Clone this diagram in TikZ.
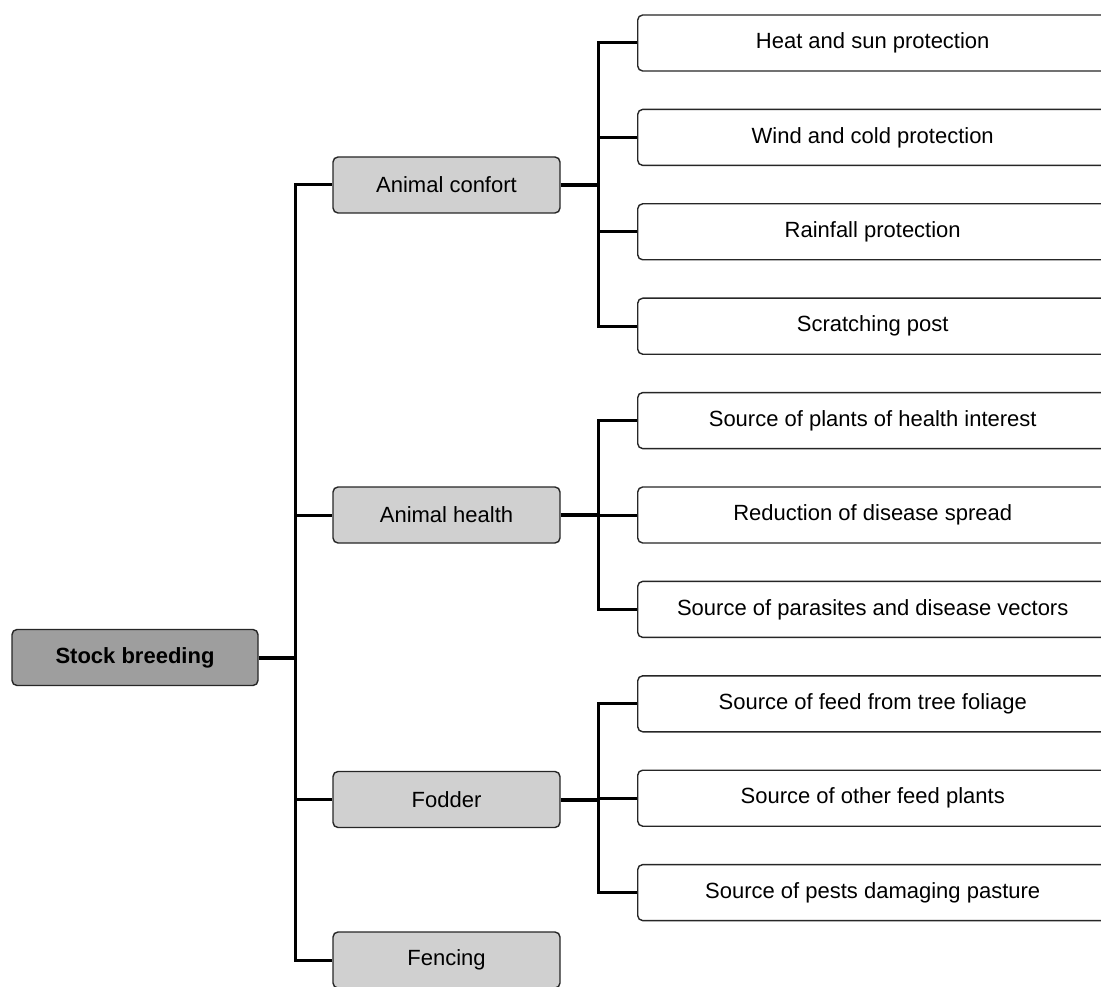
\documentclass[tikz,border=0pt]{standalone}
\usepackage{fontspec}
\setmainfont{Liberation Sans}
\usetikzlibrary{positioning}
\definecolor{rootgray}{RGB}{158,158,158}
\definecolor{midgray}{RGB}{208,208,208}
\tikzset{
    box/.style={draw=black!85, line width=1.4pt, rounded corners=5pt, minimum height=56pt, inner sep=0pt, font=\fontsize{22}{26}\selectfont}, % common box
    rootbox/.style={box, fill=rootgray, minimum width=246pt, font=\fontsize{22}{26}\selectfont\bfseries},
    midbox/.style={box, fill=midgray, minimum width=227pt},
    leafbox/.style={box, fill=white, minimum width=470pt, anchor=west},
    link/.style={line width=3pt},
    spine/.style={line width=3pt, line cap=rect},
    stub/.style={line width=4pt}
}

\begin{document}
\begin{tikzpicture}[x=1pt, y=-1pt]
    \useasboundingbox (0,0) rectangle (1101,987);
    \clip (0,0) rectangle (1101,987);

    \coordinate (tr) at (295,0);
    \coordinate (lv) at (598,0);

    \node[rootbox] (root) at (135,657.5) {Stock breeding};

    \foreach \n/\y/\txt in {
        1/185/{Animal confort},
        2/515/{Animal health},
        3/799.5/{Fodder},
        4/960/{Fencing}
    } {
        \node[midbox] (a\n) at (446.5,\y) {\txt};
    }

    \foreach \n/\y/\txt in {
        1/43/{Heat and sun protection},
        2/137.4/{Wind and cold protection},
        3/231.8/{Rainfall protection},
        4/326.2/{Scratching post},
        5/420.6/{Source of plants of health interest},
        6/515/{Reduction of disease spread},
        7/609.4/{Source of parasites and disease vectors},
        8/703.8/{Source of feed from tree foliage},
        9/798.2/{Source of other feed plants},
        10/892.6/{Source of pests damaging pasture}
    } {
        \node[leafbox] (l\n) at (637,\y) {\txt};
    }

    % root to the second level
    \draw[stub] (root.east) -- (root.east -| tr);
    \draw[spine] (tr |- a1.west) -- (tr |- a4.west);
    \foreach \n in {1,...,4} {
        \draw[link] (tr |- a\n.west) -- (a\n.west);
    }

    % second level to the leaves
    \foreach \a/\first/\last in {1/1/4, 2/5/7, 3/8/10} {
        \draw[stub] (a\a.east) -- (a\a.east -| lv);
        \draw[spine] (lv |- l\first.west) -- (lv |- l\last.west);
    }
    \foreach \n in {1,...,10} {
        \draw[link] (lv |- l\n.west) -- (l\n.west);
    }
\end{tikzpicture}
\end{document}
